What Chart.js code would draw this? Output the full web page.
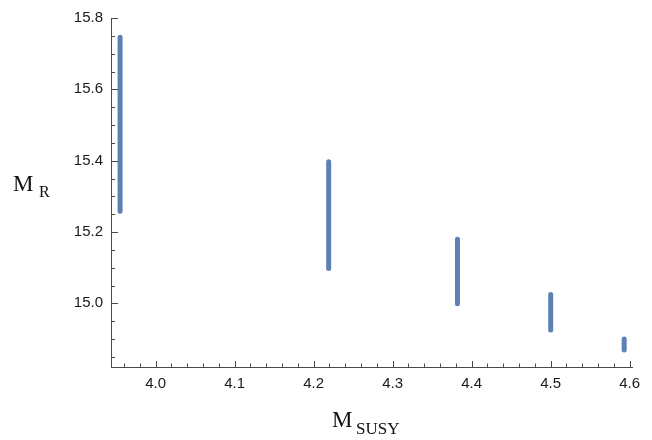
<!DOCTYPE html>
<html>
<head>
<meta charset="utf-8">
<script src="https://cdn.jsdelivr.net/npm/chart.js@4/dist/chart.umd.min.js"></script>
<style>
  html, body { margin: 0; padding: 0; background: #fff; }
  #wrap { width: 652px; height: 440px; }
</style>
</head>
<body>
<div id="wrap"><canvas id="c" width="652" height="440"></canvas></div>
<script>
// ---- data ----
const xValues = [3.955, 4.219, 4.382, 4.500, 4.593];   // M_SUSY
const yLow    = [15.258, 15.098, 14.999, 14.925, 14.869]; // M_R lower end
const yHigh   = [15.746, 15.397, 15.180, 15.025, 14.900]; // M_R upper end

const xTickValues = [4.0, 4.1, 4.2, 4.3, 4.4, 4.5, 4.6];
const yTickValues = [15.0, 15.2, 15.4, 15.6, 15.8];
const xLabel = { main: 'M', sub: 'SUSY' };
const yLabel = { main: 'M', sub: 'R' };

const X_MIN = 3.9435, X_MAX = 4.6029;
const Y_MIN = 14.8215, Y_MAX = 15.8;
const LINE_COLOR = '#5E81B5';
const AXIS_COLOR = '#4a4a4a';

const datasets = xValues.map((x, i) => ({
  data: [{ x: x, y: yLow[i] }, { x: x, y: yHigh[i] }],
  borderColor: LINE_COLOR,
  borderWidth: 5,
  borderCapStyle: 'round',
  pointRadius: 0,
  fill: false,
  tension: 0
}));

function minorValues(min, max, step) {
  const out = [];
  const start = Math.ceil(min / step - 1e-9);
  for (let k = start; k * step <= max + 1e-9; k++) out.push(+(k * step).toFixed(4));
  return out;
}

const inwardTicks = {
  id: 'inwardTicks',
  afterDraw(chart) {
    const ctx = chart.ctx;
    const xs = chart.scales.x, ys = chart.scales.y;
    const area = chart.chartArea;
    ctx.save();
    ctx.strokeStyle = AXIS_COLOR;
    ctx.lineWidth = 1;
    // x ticks
    minorValues(X_MIN, X_MAX, 0.02).forEach(v => {
      const major = Math.abs(v * 10 - Math.round(v * 10)) < 1e-6;
      const px = Math.round(xs.getPixelForValue(v)) + 0.5;
      const len = major ? 6 : 3.5;
      ctx.beginPath();
      ctx.moveTo(px, area.bottom);
      ctx.lineTo(px, area.bottom - len);
      ctx.stroke();
    });
    // y ticks
    minorValues(Y_MIN, Y_MAX, 0.05).forEach(v => {
      const major = Math.abs(v * 5 - Math.round(v * 5)) < 1e-6;
      const py = Math.round(ys.getPixelForValue(v)) + 0.5;
      const len = major ? 7 : 4;
      ctx.beginPath();
      ctx.moveTo(area.left, py);
      ctx.lineTo(area.left + len, py);
      ctx.stroke();
    });
    // axis titles with subscripts
    ctx.fillStyle = '#111';
    ctx.textBaseline = 'alphabetic';
    ctx.textAlign = 'left';
    ctx.font = '23px "Liberation Serif", "DejaVu Serif", serif';
    ctx.fillText(yLabel.main, 13, 191);
    ctx.font = '16px "Liberation Serif", "DejaVu Serif", serif';
    ctx.fillText(yLabel.sub, 39, 197);
    ctx.font = '23px "Liberation Serif", "DejaVu Serif", serif';
    ctx.fillText(xLabel.main, 332, 427);
    ctx.font = '17px "Liberation Serif", "DejaVu Serif", serif';
    ctx.fillText(xLabel.sub, 356, 434);
    ctx.restore();
  }
};

new Chart(document.getElementById('c'), {
  type: 'line',
  data: { datasets },
  options: {
    responsive: false,
    animation: false,
    events: [],
    layout: { padding: { top: 18, right: 20, left: 0, bottom: 0 } },
    plugins: { legend: { display: false }, tooltip: { enabled: false } },
    scales: {
      x: {
        type: 'linear',
        min: X_MIN, max: X_MAX,
        afterBuildTicks: s => { s.ticks = xTickValues.map(v => ({ value: v })); },
        afterFit: s => { s.height = 73; },
        grid: { display: false, drawTicks: false },
        border: { display: true, color: AXIS_COLOR, width: 1 },
        ticks: {
          padding: 8,
          color: '#1a1a1a',
          font: { family: '"Liberation Sans", Arial, sans-serif', size: 15 },
          callback: v => Number(v).toFixed(1),
          maxRotation: 0
        }
      },
      y: {
        type: 'linear',
        min: Y_MIN, max: Y_MAX,
        afterBuildTicks: s => { s.ticks = yTickValues.map(v => ({ value: v })); },
        afterFit: s => { s.width = 111; },
        grid: { display: false, drawTicks: false },
        border: { display: true, color: AXIS_COLOR, width: 1 },
        ticks: {
          padding: 8,
          color: '#1a1a1a',
          font: { family: '"Liberation Sans", Arial, sans-serif', size: 15 },
          callback: v => Number(v).toFixed(1)
        }
      }
    }
  },
  plugins: [inwardTicks]
});
</script>
</body>
</html>
